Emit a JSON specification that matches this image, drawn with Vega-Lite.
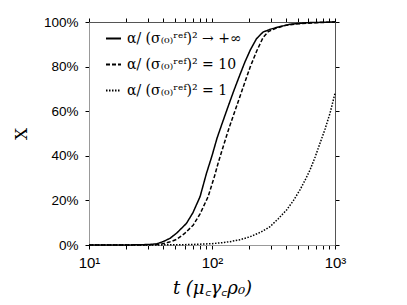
{
  "$schema": "https://vega.github.io/schema/vega-lite/v6.json",
  "width": 246,
  "height": 223,
  "autosize": "none",
  "padding": {"left": 89, "top": 22, "right": 72, "bottom": 60},
  "background": "white",
  "config": {"view": {"stroke": null}},
  "datasets": {
    "curves": [
      {"t": 10, "X": 0, "s": "α/ (σ₍₀₎ʳᵉᶠ)² → +∞"},
      {"t": 20, "X": 0, "s": "α/ (σ₍₀₎ʳᵉᶠ)² → +∞"},
      {"t": 25, "X": 0.001, "s": "α/ (σ₍₀₎ʳᵉᶠ)² → +∞"},
      {"t": 30, "X": 0.002, "s": "α/ (σ₍₀₎ʳᵉᶠ)² → +∞"},
      {"t": 35.5, "X": 0.005, "s": "α/ (σ₍₀₎ʳᵉᶠ)² → +∞"},
      {"t": 40, "X": 0.015, "s": "α/ (σ₍₀₎ʳᵉᶠ)² → +∞"},
      {"t": 45.6, "X": 0.03, "s": "α/ (σ₍₀₎ʳᵉᶠ)² → +∞"},
      {"t": 52, "X": 0.055, "s": "α/ (σ₍₀₎ʳᵉᶠ)² → +∞"},
      {"t": 62, "X": 0.097, "s": "α/ (σ₍₀₎ʳᵉᶠ)² → +∞"},
      {"t": 70, "X": 0.145, "s": "α/ (σ₍₀₎ʳᵉᶠ)² → +∞"},
      {"t": 80, "X": 0.217, "s": "α/ (σ₍₀₎ʳᵉᶠ)² → +∞"},
      {"t": 90, "X": 0.32, "s": "α/ (σ₍₀₎ʳᵉᶠ)² → +∞"},
      {"t": 100, "X": 0.4, "s": "α/ (σ₍₀₎ʳᵉᶠ)² → +∞"},
      {"t": 110, "X": 0.48, "s": "α/ (σ₍₀₎ʳᵉᶠ)² → +∞"},
      {"t": 120, "X": 0.54, "s": "α/ (σ₍₀₎ʳᵉᶠ)² → +∞"},
      {"t": 135, "X": 0.62, "s": "α/ (σ₍₀₎ʳᵉᶠ)² → +∞"},
      {"t": 150, "X": 0.69, "s": "α/ (σ₍₀₎ʳᵉᶠ)² → +∞"},
      {"t": 165, "X": 0.75, "s": "α/ (σ₍₀₎ʳᵉᶠ)² → +∞"},
      {"t": 185, "X": 0.82, "s": "α/ (σ₍₀₎ʳᵉᶠ)² → +∞"},
      {"t": 205, "X": 0.875, "s": "α/ (σ₍₀₎ʳᵉᶠ)² → +∞"},
      {"t": 230, "X": 0.925, "s": "α/ (σ₍₀₎ʳᵉᶠ)² → +∞"},
      {"t": 260, "X": 0.955, "s": "α/ (σ₍₀₎ʳᵉᶠ)² → +∞"},
      {"t": 300, "X": 0.968, "s": "α/ (σ₍₀₎ʳᵉᶠ)² → +∞"},
      {"t": 350, "X": 0.978, "s": "α/ (σ₍₀₎ʳᵉᶠ)² → +∞"},
      {"t": 430, "X": 0.99, "s": "α/ (σ₍₀₎ʳᵉᶠ)² → +∞"},
      {"t": 600, "X": 0.997, "s": "α/ (σ₍₀₎ʳᵉᶠ)² → +∞"},
      {"t": 1000, "X": 1.0, "s": "α/ (σ₍₀₎ʳᵉᶠ)² → +∞"},

      {"t": 10, "X": 0, "s": "α/ (σ₍₀₎ʳᵉᶠ)² = 10"},
      {"t": 25, "X": 0, "s": "α/ (σ₍₀₎ʳᵉᶠ)² = 10"},
      {"t": 32, "X": 0.001, "s": "α/ (σ₍₀₎ʳᵉᶠ)² = 10"},
      {"t": 37.8, "X": 0.003, "s": "α/ (σ₍₀₎ʳᵉᶠ)² = 10"},
      {"t": 45, "X": 0.013, "s": "α/ (σ₍₀₎ʳᵉᶠ)² = 10"},
      {"t": 51.5, "X": 0.025, "s": "α/ (σ₍₀₎ʳᵉᶠ)² = 10"},
      {"t": 60, "X": 0.052, "s": "α/ (σ₍₀₎ʳᵉᶠ)² = 10"},
      {"t": 70.5, "X": 0.09, "s": "α/ (σ₍₀₎ʳᵉᶠ)² = 10"},
      {"t": 80, "X": 0.14, "s": "α/ (σ₍₀₎ʳᵉᶠ)² = 10"},
      {"t": 93, "X": 0.217, "s": "α/ (σ₍₀₎ʳᵉᶠ)² = 10"},
      {"t": 105, "X": 0.31, "s": "α/ (σ₍₀₎ʳᵉᶠ)² = 10"},
      {"t": 112, "X": 0.366, "s": "α/ (σ₍₀₎ʳᵉᶠ)² = 10"},
      {"t": 120, "X": 0.42, "s": "α/ (σ₍₀₎ʳᵉᶠ)² = 10"},
      {"t": 128, "X": 0.47, "s": "α/ (σ₍₀₎ʳᵉᶠ)² = 10"},
      {"t": 136, "X": 0.516, "s": "α/ (σ₍₀₎ʳᵉᶠ)² = 10"},
      {"t": 149, "X": 0.58, "s": "α/ (σ₍₀₎ʳᵉᶠ)² = 10"},
      {"t": 165, "X": 0.65, "s": "α/ (σ₍₀₎ʳᵉᶠ)² = 10"},
      {"t": 185, "X": 0.73, "s": "α/ (σ₍₀₎ʳᵉᶠ)² = 10"},
      {"t": 205, "X": 0.8, "s": "α/ (σ₍₀₎ʳᵉᶠ)² = 10"},
      {"t": 231, "X": 0.87, "s": "α/ (σ₍₀₎ʳᵉᶠ)² = 10"},
      {"t": 260, "X": 0.93, "s": "α/ (σ₍₀₎ʳᵉᶠ)² = 10"},
      {"t": 287, "X": 0.957, "s": "α/ (σ₍₀₎ʳᵉᶠ)² = 10"},
      {"t": 330, "X": 0.972, "s": "α/ (σ₍₀₎ʳᵉᶠ)² = 10"},
      {"t": 400, "X": 0.985, "s": "α/ (σ₍₀₎ʳᵉᶠ)² = 10"},
      {"t": 500, "X": 0.992, "s": "α/ (σ₍₀₎ʳᵉᶠ)² = 10"},
      {"t": 700, "X": 0.997, "s": "α/ (σ₍₀₎ʳᵉᶠ)² = 10"},
      {"t": 1000, "X": 1.0, "s": "α/ (σ₍₀₎ʳᵉᶠ)² = 10"},

      {"t": 10, "X": 0, "s": "α/ (σ₍₀₎ʳᵉᶠ)² = 1"},
      {"t": 30, "X": 0, "s": "α/ (σ₍₀₎ʳᵉᶠ)² = 1"},
      {"t": 50, "X": 0.001, "s": "α/ (σ₍₀₎ʳᵉᶠ)² = 1"},
      {"t": 66, "X": 0.002, "s": "α/ (σ₍₀₎ʳᵉᶠ)² = 1"},
      {"t": 100, "X": 0.006, "s": "α/ (σ₍₀₎ʳᵉᶠ)² = 1"},
      {"t": 124, "X": 0.011, "s": "α/ (σ₍₀₎ʳᵉᶠ)² = 1"},
      {"t": 140, "X": 0.015, "s": "α/ (σ₍₀₎ʳᵉᶠ)² = 1"},
      {"t": 170, "X": 0.024, "s": "α/ (σ₍₀₎ʳᵉᶠ)² = 1"},
      {"t": 204, "X": 0.037, "s": "α/ (σ₍₀₎ʳᵉᶠ)² = 1"},
      {"t": 250, "X": 0.058, "s": "α/ (σ₍₀₎ʳᵉᶠ)² = 1"},
      {"t": 296, "X": 0.082, "s": "α/ (σ₍₀₎ʳᵉᶠ)² = 1"},
      {"t": 346, "X": 0.118, "s": "α/ (σ₍₀₎ʳᵉᶠ)² = 1"},
      {"t": 404, "X": 0.157, "s": "α/ (σ₍₀₎ʳᵉᶠ)² = 1"},
      {"t": 460, "X": 0.2, "s": "α/ (σ₍₀₎ʳᵉᶠ)² = 1"},
      {"t": 519, "X": 0.247, "s": "α/ (σ₍₀₎ʳᵉᶠ)² = 1"},
      {"t": 570, "X": 0.29, "s": "α/ (σ₍₀₎ʳᵉᶠ)² = 1"},
      {"t": 626, "X": 0.336, "s": "α/ (σ₍₀₎ʳᵉᶠ)² = 1"},
      {"t": 690, "X": 0.395, "s": "α/ (σ₍₀₎ʳᵉᶠ)² = 1"},
      {"t": 755, "X": 0.456, "s": "α/ (σ₍₀₎ʳᵉᶠ)² = 1"},
      {"t": 830, "X": 0.52, "s": "α/ (σ₍₀₎ʳᵉᶠ)² = 1"},
      {"t": 910, "X": 0.59, "s": "α/ (σ₍₀₎ʳᵉᶠ)² = 1"},
      {"t": 1000, "X": 0.68, "s": "α/ (σ₍₀₎ʳᵉᶠ)² = 1"}
    ]
  },
  "data": {"name": "curves"},
  "layer": [
    {
      "mark": {"type": "line", "color": "black", "strokeWidth": 1.5},
      "encoding": {
        "x": {
          "field": "t", "type": "quantitative",
          "scale": {"type": "log", "domain": [10, 1000], "nice": false},
          "axis": {
            "orient": "bottom",
            "values": [10, 20, 30, 40, 50, 60, 70, 80, 90, 100, 200, 300, 400, 500, 600, 700, 800, 900, 1000],
            "labelExpr": "datum.value == 10 ? '10¹' : datum.value == 100 ? '10²' : datum.value == 1000 ? '10³' : ''",
            "labelOverlap": false,
            "labelFlush": false,
            "labelFont": "Liberation Sans",
            "labelFontSize": 15,
            "labelColor": "black",
            "labelPadding": 6,
            "tickSize": 4,
            "tickColor": "black",
            "domainColor": "#999999",
            "grid": false,
            "title": "t (μ꜀γ꜀ρ₀)",
            "titleFont": "DejaVu Serif",
            "titleFontStyle": "italic",
            "titleFontWeight": "normal",
            "titleFontSize": 18,
            "titleColor": "black",
            "titlePadding": 9
          }
        },
        "y": {
          "field": "X", "type": "quantitative",
          "scale": {"domain": [0, 1], "nice": false},
          "axis": {
            "orient": "left",
            "values": [0, 0.2, 0.4, 0.6, 0.8, 1],
            "format": ".0%",
            "labelFont": "Liberation Sans",
            "labelFontSize": 13.5,
            "labelColor": "black",
            "labelPadding": 7,
            "tickSize": 4,
            "tickColor": "black",
            "domainColor": "#999999",
            "grid": false,
            "title": "X",
            "titleFont": "DejaVu Serif",
            "titleFontWeight": "normal",
            "titleFontSize": 17,
            "titleColor": "black",
            "titlePadding": 13
          }
        },
        "strokeDash": {
          "field": "s", "type": "nominal",
          "scale": {
            "domain": ["α/ (σ₍₀₎ʳᵉᶠ)² → +∞", "α/ (σ₍₀₎ʳᵉᶠ)² = 10", "α/ (σ₍₀₎ʳᵉᶠ)² = 1"],
            "range": [[1, 0], [4, 2], [1.5, 1.5]]
          },
          "legend": {
            "title": null,
            "orient": "none",
            "legendX": 16,
            "legendY": 8,
            "symbolType": "stroke",
            "symbolSize": 225,
            "symbolStrokeWidth": 1.8,
            "symbolStrokeColor": "black",
            "labelFont": "DejaVu Serif",
            "labelFontSize": 14,
            "labelColor": "black",
            "labelLimit": 300,
            "labelOffset": 5,
            "rowPadding": 10
          }
        }
      }
    },
    {
      "mark": {"type": "point", "opacity": 0},
      "encoding": {
        "x": {
          "field": "t", "type": "quantitative",
          "scale": {"type": "log", "domain": [10, 1000], "nice": false},
          "axis": {
            "orient": "top",
            "values": [10, 20, 30, 40, 50, 60, 70, 80, 90, 100, 200, 300, 400, 500, 600, 700, 800, 900, 1000],
            "labels": false,
            "tickSize": 4,
            "tickColor": "black",
            "domainColor": "#555555",
            "grid": false,
            "title": null
          }
        },
        "y": {
          "field": "X", "type": "quantitative",
          "scale": {"domain": [0, 1], "nice": false},
          "axis": {
            "orient": "right",
            "values": [0, 0.2, 0.4, 0.6, 0.8, 1],
            "labels": false,
            "tickSize": 4,
            "tickColor": "black",
            "domainColor": "#555555",
            "grid": false,
            "title": null
          }
        }
      }
    }
  ],
  "resolve": {"axis": {"x": "independent", "y": "independent"}}
}
